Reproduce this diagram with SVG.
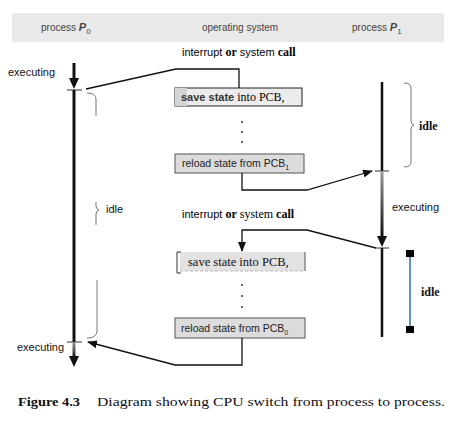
<svg xmlns="http://www.w3.org/2000/svg" width="461" height="427" viewBox="0 0 461 427">
<style>
.sans{font-family:"Liberation Sans",Arial,sans-serif;}
.serif{font-family:"Liberation Serif","Times New Roman",serif;}
.hdr{font-size:10px;fill:#444;}
.lbl{font-size:11px;fill:#111;}
.conn{fill:none;stroke:#111;stroke-width:1.3;}
.brace{fill:none;stroke:#777;stroke-width:1;}
.tl{stroke:#111;stroke-width:3;}
.tick{stroke:#333;stroke-width:1;}
</style>
<defs>
<marker id="ah" markerWidth="10" markerHeight="8" refX="9" refY="4" orient="auto" markerUnits="userSpaceOnUse">
<path d="M0,0 L10,4 L0,8 Z" fill="#111"/>
</marker>
<linearGradient id="gexe" x1="0" y1="0" x2="0" y2="1">
<stop offset="0" stop-color="#999"/>
<stop offset="1" stop-color="#111"/>
</linearGradient>
</defs>
<rect width="461" height="427" fill="#fff"/>
<g id="header">
<rect x="12" y="13" width="432" height="29" fill="#e9e9e9"/>
<text class="sans hdr" x="41" y="31">process <tspan font-style="italic" font-weight="bold" font-size="11">P</tspan><tspan font-size="8" dy="3">0</tspan></text>
<text class="sans hdr" x="240" y="31" text-anchor="middle">operating system</text>
<text class="sans hdr" x="352" y="31">process <tspan font-style="italic" font-weight="bold" font-size="11">P</tspan><tspan font-size="8" dy="3">1</tspan></text>
</g>
<g id="p0">
<line class="tl" x1="74" y1="63" x2="74" y2="80" stroke="#222"/>
<path d="M69,78 L79,78 L74,89 Z" fill="#111"/>
<line class="tick" x1="67" y1="90" x2="82" y2="90"/>
<line class="tl" x1="74" y1="90" x2="74" y2="342"/>
<line class="tick" x1="67" y1="342" x2="82" y2="342"/>
<rect x="72.5" y="342" width="3" height="16" fill="url(#gexe)"/>
<path d="M69,356 L79,356 L74,367 Z" fill="#111"/>
<text class="sans lbl" x="8" y="76">executing</text>
<text class="sans lbl" x="17" y="351">executing</text>
<path class="brace" d="M87,93 Q96,93 96,99 L96,116"/>
<path class="brace" d="M96,202 L96,206 Q96,209 99,210 Q96,211 96,214 L96,225"/>
<path class="brace" d="M97,280 L97,332 Q96,338 87,338"/>
<text class="sans lbl" x="106" y="213">idle</text>
</g>
<g id="save1">
<rect x="175" y="88" width="127" height="18" fill="#ececec" stroke="#222" stroke-width="1"/>
<rect x="175" y="88" width="12" height="18" fill="#d4d4d4"/>
<text x="181" y="101" font-size="11"><tspan class="sans" font-weight="bold" fill="#333">save state</tspan><tspan class="serif" font-size="12"> into PCB,</tspan></text>
</g>
<g id="reload1">
<rect x="175" y="154" width="129" height="19" fill="#dcdcdc" stroke="#555" stroke-width="1"/>
<text class="sans" x="182" y="167" font-size="10.5" fill="#222">reload state from PCB<tspan font-size="7" dy="3">1</tspan></text>
</g>
<g id="save0">
<rect x="180" y="252" width="125" height="19" fill="#e2e2e2"/>
<path d="M181,252 L177,252 L177,273 L181,273" fill="none" stroke="#333" stroke-width="1"/>
<line x1="305" y1="252" x2="305" y2="271" stroke="#555" stroke-width="1"/>
<line x1="180" y1="271" x2="305" y2="271" stroke="#bbb" stroke-width="1" stroke-dasharray="3,2"/>
<text class="serif" x="188" y="266" font-size="12.5" fill="#111">save state into PCB,</text>
</g>
<g id="reload0">
<rect x="175" y="318" width="130" height="20" fill="#dcdcdc" stroke="#555" stroke-width="1"/>
<text class="sans" x="181" y="332" font-size="10.5" fill="#222">reload state from PCB<tspan font-size="7" dy="3">0</tspan></text>
</g>
<g id="os-dots" fill="#333">
<circle cx="242" cy="122" r="1"/><circle cx="242" cy="132" r="1"/><circle cx="242" cy="142" r="1"/>
<circle cx="242" cy="285" r="1"/><circle cx="242" cy="296" r="1"/><circle cx="242" cy="307" r="1"/>
</g>
<g id="interrupt-labels">
<text x="182" y="56" font-size="11"><tspan class="sans">interrupt </tspan><tspan class="serif" font-weight="bold" font-size="12">or</tspan><tspan class="sans"> system </tspan><tspan class="serif" font-weight="bold" font-size="12">call</tspan></text>
<text x="182" y="218" font-size="11"><tspan class="sans">interrupt </tspan><tspan class="serif" font-weight="bold" font-size="12">or</tspan><tspan class="serif" font-size="12"> system </tspan><tspan class="serif" font-weight="bold" font-size="12">call</tspan></text>
</g>
<g id="p1">
<line x1="382" y1="82" x2="382" y2="171" stroke="#111" stroke-width="2.5"/>
<line class="tick" x1="375" y1="171" x2="389" y2="171"/>
<rect x="380.5" y="171" width="3" height="65" fill="url(#gexe)"/>
<path d="M377,236 L387,236 L382,247 Z" fill="#111"/>
<line class="tick" x1="375" y1="248" x2="389" y2="248"/>
<line x1="382" y1="248" x2="382" y2="337" stroke="#111" stroke-width="2.5"/>
<path class="brace" d="M404,83 Q411,83 411,88 L411,121 Q411,124 414,125 Q411,126 411,129 L411,162 Q411,167 404,167"/>
<text class="serif" x="419" y="130" font-size="12" font-weight="bold" fill="#111">idle</text>
<text class="sans lbl" x="392" y="211">executing</text>
<line x1="410" y1="253" x2="410" y2="330" stroke="#2a6fa8" stroke-width="1.5"/>
<rect x="406" y="250" width="8" height="7" fill="#000"/>
<rect x="406" y="326" width="8" height="7" fill="#000"/>
<text class="serif" x="421" y="296" font-size="12" font-weight="bold" fill="#111">idle</text>
</g>
<g id="connectors">
<path class="conn" d="M86,89 L176,69 L239,69 L239,88"/>
<path class="conn" d="M242,173 L242,190 L307,190 L372,171" marker-end="url(#ah)"/>
<path class="conn" d="M376,248 L307,230 L242,230 L242,251" marker-end="url(#ah)"/>
<path class="conn" d="M242,338 L242,365 L175,365 L88,342" marker-end="url(#ah)"/>
</g>
<g id="caption">
<text class="serif" x="18" y="406" font-size="13.5" font-weight="bold" fill="#111" textLength="62" lengthAdjust="spacingAndGlyphs">Figure 4.3</text>
<text class="serif" x="97" y="406" font-size="13.5" fill="#111" textLength="348" lengthAdjust="spacingAndGlyphs">Diagram showing CPU switch from process to process.</text>
</g>
</svg>
